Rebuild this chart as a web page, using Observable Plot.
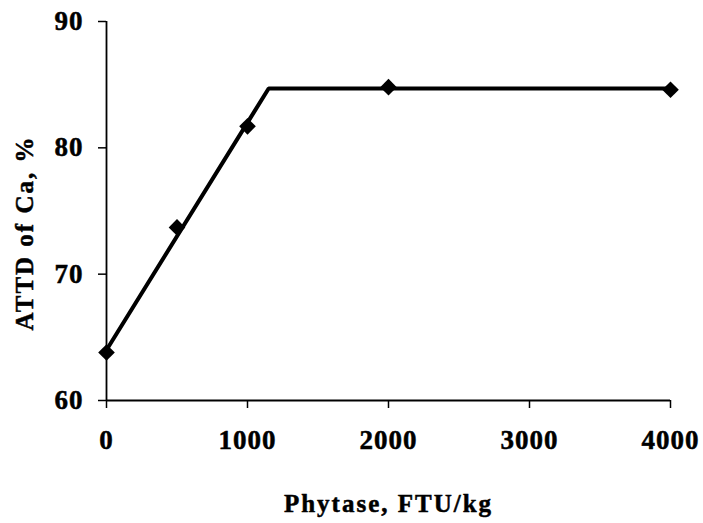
<!DOCTYPE html>
<html>
<head>
<meta charset="utf-8">
<script src="https://cdn.jsdelivr.net/npm/d3@7"></script>
<script src="https://cdn.jsdelivr.net/npm/@observablehq/plot@0.6"></script>
<style>
  html, body { margin: 0; padding: 0; background: #fff; }
  #chart svg text { letter-spacing: 1px; stroke: #000; stroke-width: 0.5px; }
  #chart svg g[aria-label="text"] text { letter-spacing: 2px; }
</style>
</head>
<body>
<div id="chart"></div>
<script>
// Observed digestibility at each phytase dose
const phytase = [0, 500, 1000, 2000, 4000];
const attdCa = [63.8, 73.7, 81.7, 84.8, 84.6];

// Broken-line (linear plateau) fit: intercept, breakpoint, plateau
const fitX = [0, 1150, 4000];
const fitY = [64.0, 84.7, 84.7];

const xTicks = [0, 1000, 2000, 3000, 4000];
const yTicks = [60, 70, 80, 90];
const xTitle = ["Phytase, FTU/kg"];
const yTitle = ["ATTD of Ca, %"];

const points = phytase.map((x, i) => ({x, y: attdCa[i]}));
const fit = fitX.map((x, i) => ({x, y: fitY[i]}));

const chart = Plot.plot({
  width: 703,
  height: 523,
  marginLeft: 106,
  marginRight: 33,
  marginTop: 21,
  marginBottom: 123,
  style: {
    fontFamily: "'Liberation Serif', 'Times New Roman', serif",
    fontSize: "24px",
    fontWeight: "bold",
    color: "#000",
    background: "#fff"
  },
  x: {domain: [0, 4000]},
  y: {domain: [60, 90]},
  marks: [
    Plot.axisX({ticks: xTicks, tickFormat: d => String(d), tickSize: 8, tickPadding: 21, label: null, fontSize: 27, fontWeight: "bold", strokeWidth: 1.5}),
    Plot.axisY({ticks: yTicks, tickFormat: d => String(d), tickSize: 8, tickPadding: 15, label: null, fontSize: 27, fontWeight: "bold", strokeWidth: 1.5}),
    Plot.ruleX([0], {stroke: "#000", strokeWidth: 1.8}),
    Plot.ruleY([60], {stroke: "#000", strokeWidth: 1.8}),
    Plot.line(fit, {x: "x", y: "y", stroke: "#000", strokeWidth: 4, strokeLinejoin: "miter"}),
    Plot.dot(points, {x: "x", y: "y", symbol: "diamond2", r: 7.5, fill: "#000", stroke: "none"}),
    Plot.text(xTitle, {frameAnchor: "bottom", lineAnchor: "middle", textAnchor: "middle", dy: 103, fontSize: 25, fontWeight: "bold"}),
    Plot.text(yTitle, {frameAnchor: "left", textAnchor: "middle", lineAnchor: "middle", rotate: -90, dx: -82, dy: 22, fontSize: 25, fontWeight: "bold"})
  ]
});

document.getElementById("chart").appendChild(chart);
</script>
</body>
</html>
